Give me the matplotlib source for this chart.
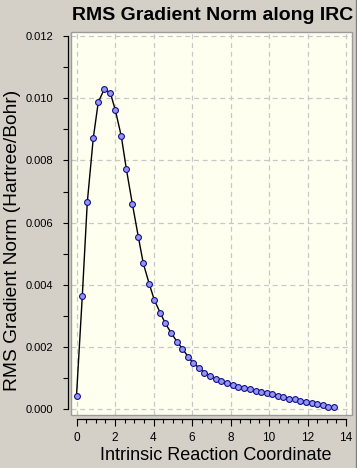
import matplotlib
matplotlib.use("Agg")
import matplotlib.pyplot as plt
from matplotlib.patches import Rectangle
from matplotlib.lines import Line2D
from matplotlib.ticker import MultipleLocator

irc = [0.00, 0.30, 0.56, 0.87, 1.13, 1.44, 1.76, 2.02, 2.33, 2.59, 2.90, 3.21,
       3.47, 3.78, 4.04, 4.35, 4.61, 4.92, 5.24, 5.50, 5.81, 6.07, 6.38, 6.64,
       6.95, 7.26, 7.52, 7.83, 8.14, 8.41, 8.72, 9.03, 9.31, 9.60, 9.88, 10.17,
       10.47, 10.74, 11.05, 11.34, 11.63, 11.94, 12.23, 12.51, 12.79, 13.08, 13.36]
rms_grad = [0.00043, 0.00363, 0.00665, 0.00871, 0.00987, 0.01029, 0.01017,
            0.00961, 0.00877, 0.00772, 0.00661, 0.00555, 0.00469, 0.00403,
            0.00352, 0.00310, 0.00277, 0.00245, 0.00216, 0.00195, 0.00168,
            0.00148, 0.00133, 0.00118, 0.00107, 0.00098, 0.00090, 0.00084,
            0.00077, 0.00072, 0.00069, 0.00064, 0.00058, 0.00056, 0.00054,
            0.00048, 0.00042, 0.00039, 0.00034, 0.00032, 0.00028, 0.00023,
            0.00019, 0.00016, 0.00013, 0.00008, 0.00006]

title = "RMS Gradient Norm along IRC"
xlabel = "Intrinsic Reaction Coordinate"
ylabel = "RMS Gradient Norm (Hartree/Bohr)"

W, H = 357, 468
FONT = ['Liberation Sans', 'DejaVu Sans']
plt.rcParams['font.family'] = FONT

fig = plt.figure(figsize=(W / 100, H / 100), dpi=100, facecolor='#d4d0c8')
ax = fig.add_axes([71 / W, 53 / H, 281 / W, 383.5 / H])
ax.set_facecolor('#fffff0')

ax.set_xlim(-5.5 / 19.25, 14 + 6 / 19.25)
ax.set_ylim(-5.7 / 31100, 0.012 + 4.5 / 31100)

ax.plot(irc, rms_grad, color='black', lw=1.0, marker='o', ms=4.2,
        mfc='#9696f0', mec='#10108a', mew=0.8, zorder=3)

ax.xaxis.set_minor_locator(MultipleLocator(0.5))
ax.yaxis.set_minor_locator(MultipleLocator(0.001))
ax.set_yticks([0, 0.002, 0.004, 0.006, 0.008, 0.010, 0.012])
ax.set_yticklabels(['0.000', '0.002', '0.004', '0.006', '0.008', '0.010', '0.012'])
ax.set_xticks(range(0, 15, 2))

ax.grid(True, which='major', color='#c8c8c8', lw=0.9, ls=(0, (4, 3)))

for s in ['top', 'right']:
    ax.spines[s].set_visible(False)
ax.spines['left'].set_position(('outward', 1.95))
ax.spines['left'].set_bounds(0, 0.012)
ax.spines['bottom'].set_position(('outward', 2.9))
ax.spines['bottom'].set_bounds(0, 14)
for s in ['left', 'bottom']:
    ax.spines[s].set_color('black')
    ax.spines[s].set_linewidth(0.9)

ax.tick_params(axis='y', which='both', direction='out', length=3.6, width=0.8,
               pad=7.0, labelsize=8, colors='black')
ax.tick_params(axis='x', which='major', direction='out', length=5.0, width=0.8,
               pad=4.0, labelsize=8.5, colors='black')
ax.tick_params(axis='x', which='minor', direction='out', length=3.2, width=0.8)

ax.add_patch(Rectangle((0, 0), 1, 1, transform=ax.transAxes, fill=False,
                       edgecolor='#9a9a9a', lw=1.0, zorder=5, clip_on=False))

fig.text(212.5 / W, 1 - 15 / H, title, ha='center', va='center',
         fontsize=14, fontweight='bold')
fig.text(215.5 / W, 1 - 455 / H, xlabel, ha='center', va='center', fontsize=13)
fig.text(12.5 / W, 1 - 240 / H, ylabel, ha='center', va='center', fontsize=13.8,
         rotation=90)

fig.add_artist(Line2D([355.5 / W, 355.5 / W], [0, 1], transform=fig.transFigure,
                      color='#808080', lw=1.0))

fig.savefig('out.png', dpi=100, facecolor=fig.get_facecolor())
